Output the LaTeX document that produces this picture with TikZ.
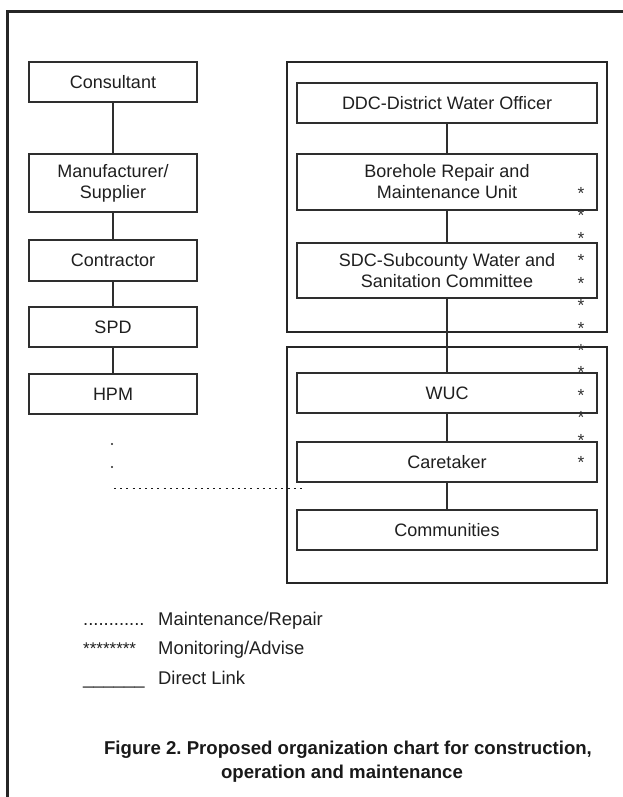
\documentclass[tikz,border=0pt]{standalone}
\usepackage{fontspec}
\setmainfont{Liberation Sans}
\frenchspacing
\begin{document}
\begin{tikzpicture}[x=1pt,y=-1pt,
  ln/.style={draw=black!82,line width=1.2pt},
  box/.style={ln,fill=white,text=black!88,inner sep=0pt,align=center,
    font=\fontsize{18}{21}\selectfont},
  lbox/.style={box,minimum width=168pt},
  rbox/.style={box,minimum width=300pt},
  group/.style={ln,draw=black!85},
  star/.style={inner sep=0pt,anchor=base,text=black!80,font=\fontsize{17.5}{17}\selectfont},
  legend/.style={inner sep=0pt,anchor=base west,text=black!88,font=\fontsize{18.4}{21}\selectfont},
  caption/.style={inner sep=0pt,anchor=base,text=black!90,font=\bfseries\fontsize{18.6}{22}\selectfont},
  dotline/.style={draw=black!90,line width=1.9pt,dash pattern=on 1.9pt off 4.3pt}
]
\useasboundingbox (0,0) rectangle (623,797);
\begin{scope}
\clip (0,0) rectangle (623,797);
\draw[draw=black!85,line width=2.6pt] (7.5,11.5) rectangle (660,840);
\end{scope}
% group frames
\draw[group] (287,62) rectangle (607,332);
\draw[group] (287,347) rectangle (607,583);
% left column
\node[lbox,minimum height=40pt] (cons) at (113,82) {Consultant};
\node[lbox,minimum height=58pt] (manu) at (113,183) {Manufacturer/\\Supplier};
\node[lbox,minimum height=41pt] (cont) at (113,260.5) {Contractor};
\node[lbox,minimum height=40pt] (spd) at (113,327) {SPD};
\node[lbox,minimum height=40pt] (hpm) at (113,394) {HPM};
% right column
\node[rbox,minimum height=40pt] (ddc) at (447,103) {DDC-District Water Officer};
\node[rbox,minimum height=56pt] (bore) at (447,182) {Borehole Repair and\\Maintenance Unit};
\node[rbox,minimum height=55pt] (sdc) at (447,270.5) {SDC-Subcounty Water and\\Sanitation Committee};
\node[rbox,minimum height=40pt] (wuc) at (447,393) {WUC};
\node[rbox,minimum height=40pt] (care) at (447,462) {Caretaker};
\node[rbox,minimum height=40pt] (comm) at (447,530) {Communities};
% direct links
\draw[ln] (cons) -- (manu);
\draw[ln] (manu) -- (cont);
\draw[ln] (cont) -- (spd);
\draw[ln] (spd) -- (hpm);
\draw[ln] (ddc) -- (bore);
\draw[ln] (bore) -- (sdc);
\draw[ln] (sdc) -- (wuc);
\draw[ln] (wuc) -- (care);
\draw[ln] (care) -- (comm);
% monitoring stars
\foreach \i in {0,...,12}{
  \node[star] (st\i) at (581,{189+22.42*\i+10.5}) {*};
}
% maintenance dots
\fill[black!85] (112,444) circle (1.2pt);
\fill[black!85] (112,467) circle (1.2pt);
\coordinate (mA) at (114,488.5);
\coordinate (mB) at (303,488.5);
\draw[dotline] (mA) -- (mB);
% legend
\node[legend] (l1s) at (83,625.6) {............};
\node[legend] (l1) at (158,625.6) {Maintenance/Repair};
\node[legend,font=\fontsize{17}{17}\selectfont] (l2s) at (83,654.6) {********};
\node[legend] (l2) at (158,654.6) {Monitoring/Advise};
\node[legend] (l3s) at (83,684.6) {\_\_\_\_\_\_};
\node[legend] (l3) at (158,684.6) {Direct Link};
% caption
\node[caption] (cap1) at (348,754.7) {Figure 2. Proposed organization chart for construction,};
\node[caption] (cap2) at (342,778.7) {operation and maintenance};
\end{tikzpicture}
\end{document}
